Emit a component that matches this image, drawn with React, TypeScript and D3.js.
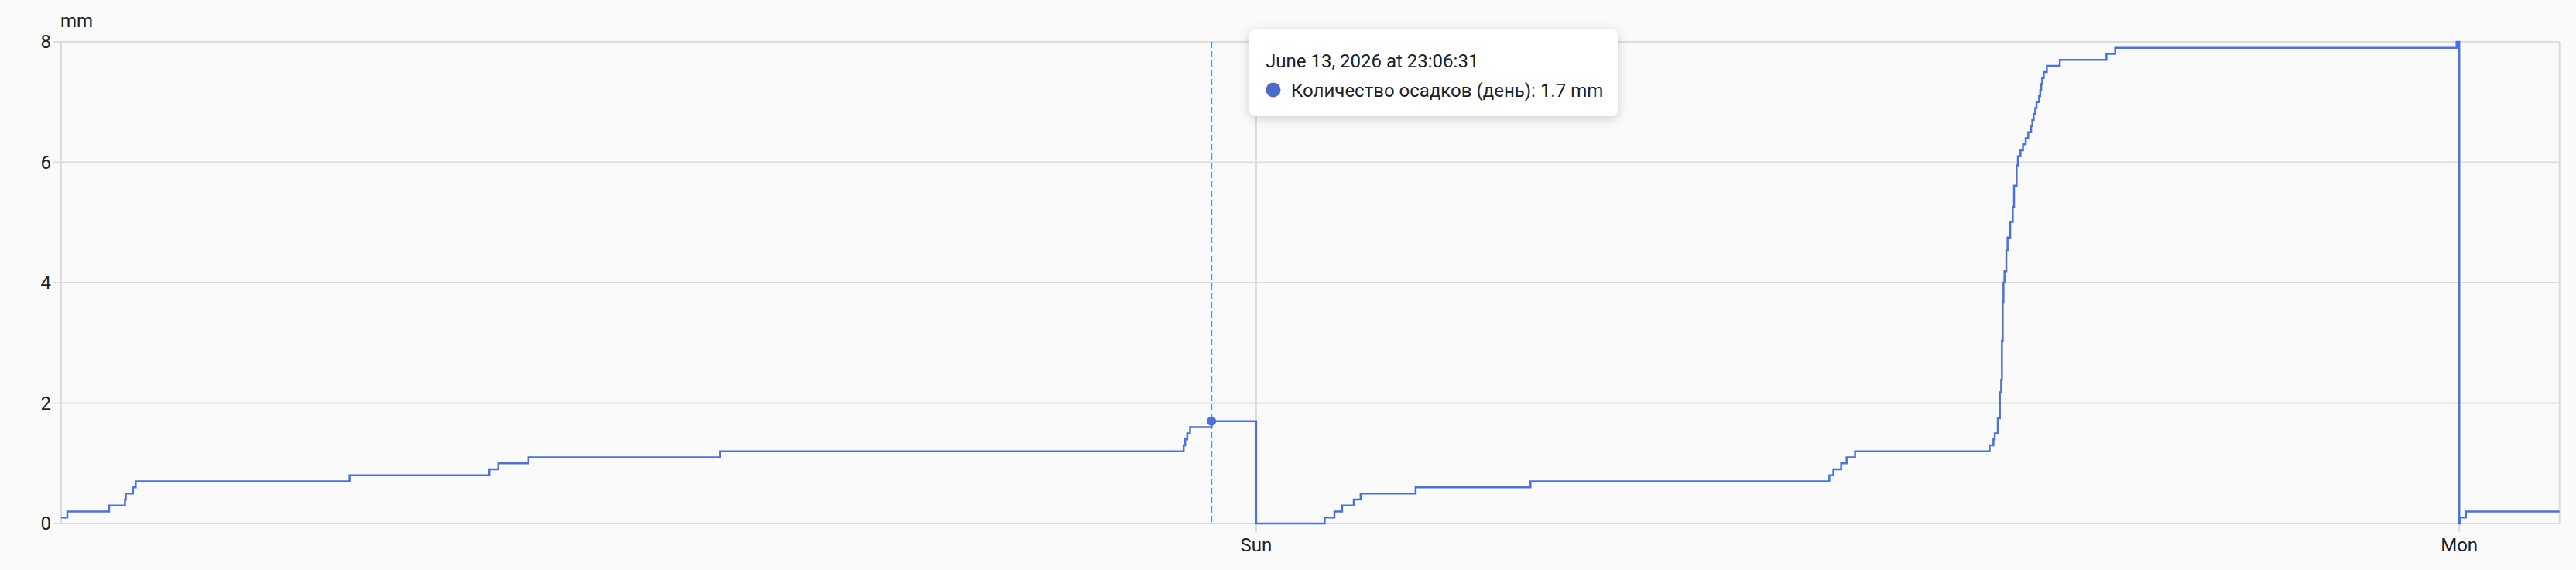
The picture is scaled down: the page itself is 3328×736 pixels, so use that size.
import React from "react";
import * as d3 from "d3";

// ---- data ----
const domainStart = "2026-06-13T00:09:36";
const domainEnd = "2026-06-15T02:00:00";

const times: string[] = [
  "2026-06-13T00:09:36", "2026-06-13T00:17:00", "2026-06-13T01:07:00", "2026-06-13T01:26:00",
  "2026-06-13T01:27:00", "2026-06-13T01:35:30", "2026-06-13T01:38:50", "2026-06-13T05:54:50",
  "2026-06-13T08:42:10", "2026-06-13T08:52:50", "2026-06-13T09:29:00", "2026-06-13T13:18:20",
  "2026-06-13T22:33:10", "2026-06-13T22:35:00", "2026-06-13T22:37:30", "2026-06-13T22:40:50",
  "2026-06-13T23:06:31",
  "2026-06-14T00:00:00", "2026-06-14T01:22:00", "2026-06-14T01:33:40", "2026-06-14T01:42:50",
  "2026-06-14T01:56:50", "2026-06-14T02:05:00", "2026-06-14T03:10:50", "2026-06-14T05:28:20",
  "2026-06-14T11:26:00", "2026-06-14T11:30:50", "2026-06-14T11:40:10", "2026-06-14T11:46:40",
  "2026-06-14T11:56:50", "2026-06-14T14:37:50", "2026-06-14T14:42:25", "2026-06-14T14:44:00",
  "2026-06-14T14:47:42", "2026-06-14T14:50:10", "2026-06-14T14:51:43", "2026-06-14T14:52:37",
  "2026-06-14T14:53:35", "2026-06-14T14:54:29", "2026-06-14T14:55:41", "2026-06-14T14:57:54",
  "2026-06-14T14:59:24", "2026-06-14T15:02:31", "2026-06-14T15:05:35", "2026-06-14T15:07:08",
  "2026-06-14T15:10:12", "2026-06-14T15:11:46", "2026-06-14T15:14:49", "2026-06-14T15:17:53",
  "2026-06-14T15:21:04", "2026-06-14T15:24:07", "2026-06-14T15:27:32", "2026-06-14T15:29:00",
  "2026-06-14T15:30:36", "2026-06-14T15:32:30", "2026-06-14T15:34:01", "2026-06-14T15:37:05",
  "2026-06-14T15:38:30", "2026-06-14T15:39:40", "2026-06-14T15:40:48", "2026-06-14T15:42:40",
  "2026-06-14T15:46:23", "2026-06-14T16:01:52", "2026-06-14T16:57:43", "2026-06-14T17:08:13",
  "2026-06-14T23:56:49",
  "2026-06-15T00:00:00", "2026-06-15T00:00:40", "2026-06-15T00:08:00", "2026-06-15T02:00:00",
];

const values: number[] = [
  0.1, 0.2, 0.3, 0.4,
  0.5, 0.6, 0.7, 0.8,
  0.9, 1.0, 1.1, 1.2,
  1.3, 1.4, 1.5, 1.6,
  1.7,
  0.0, 0.1, 0.2, 0.3,
  0.4, 0.5, 0.6, 0.7,
  0.8, 0.9, 1.0, 1.1,
  1.2, 1.3, 1.4, 1.5,
  1.75, 2.18, 2.39, 3.04,
  3.68, 4.0, 4.19, 4.54,
  4.75, 5.01, 5.26, 5.61,
  5.95, 6.1, 6.2, 6.3,
  6.4, 6.5, 6.6, 6.7,
  6.8, 6.9, 7.0, 7.1,
  7.2, 7.3, 7.4, 7.5,
  7.6, 7.7, 7.8, 7.9,
  8.0,
  0.0, 0.1, 0.2, 0.2,
];

const yTicks: number[] = [0, 2, 4, 6, 8];
const xTickTimes: string[] = ["2026-06-14T00:00:00", "2026-06-15T00:00:00"];
const xTickLabels: string[] = ["Sun", "Mon"];
const unitLabel = "mm";

const hoverTime = "2026-06-13T23:06:31";
const hoverValue = 1.7;
const tooltipTitle = "June 13, 2026 at 23:06:31";
const seriesName = "Количество осадков (день)";

// ---- layout ----
const W = 3328;
const H = 736;
const left = 79;
const right = 3306.7;
const top = 54;
const bottom = 676;
const FONT = "Roboto, 'Noto Sans', sans-serif";
const lineColor = "#4a72dc";
const gridColor = "#dcdcdc";
const textColor = "#212121";

export default function App() {
  const x = d3
    .scaleTime()
    .domain([new Date(domainStart), new Date(domainEnd)])
    .range([left, right]);
  const y = d3.scaleLinear().domain([0, 8]).range([bottom, top]);

  const pts = times.map((t, i) => ({ t: new Date(t), v: values[i] }));
  const line = d3
    .line<{ t: Date; v: number }>()
    .x((d) => x(d.t))
    .y((d) => y(d.v))
    .curve(d3.curveStepAfter);
  const path = line(pts) || "";

  const hx = x(new Date(hoverTime));
  const hy = y(hoverValue);

  const tipX = 1614;
  const tipY = 38;
  const tipW = 476;
  const tipH = 112;

  return (
    <div style={{ position: "fixed", left: 0, top: 0, width: W, height: H, background: "#fafafa" }}>
      <svg width={W} height={H} style={{ display: "block", fontFamily: FONT }}>
        <defs>
          <filter id="shadow" x="-20%" y="-40%" width="140%" height="180%">
            <feDropShadow dx="0" dy="3" stdDeviation="7" floodColor="#000" floodOpacity="0.18" />
          </filter>
        </defs>
        <rect x={0} y={0} width={W} height={H} fill="#fafafa" />

        {/* horizontal gridlines + y ticks */}
        {yTicks.map((v) => (
          <g key={v}>
            <line x1={left - 11} x2={right} y1={y(v)} y2={y(v)} stroke={gridColor} strokeWidth={2} />
            <text
              x={left - 13}
              y={y(v)}
              dy="0.35em"
              textAnchor="end"
              fontSize={24}
              fill={textColor}
            >
              {v}
            </text>
          </g>
        ))}

        {/* left axis and right border */}
        <line x1={left} x2={left} y1={top} y2={bottom} stroke={gridColor} strokeWidth={2} />
        <line x1={right} x2={right} y1={top} y2={bottom} stroke={gridColor} strokeWidth={2} />

        {/* vertical day gridlines + labels */}
        {xTickTimes.map((t, i) => {
          const xx = x(new Date(t));
          return (
            <g key={t}>
              <line x1={xx} x2={xx} y1={top} y2={bottom + 11} stroke={gridColor} strokeWidth={2} />
              <text x={xx} y={712} textAnchor="middle" fontSize={24} fill={textColor}>
                {xTickLabels[i]}
              </text>
            </g>
          );
        })}

        {/* unit label */}
        <text x={left - 1} y={35} fontSize={24} fill={textColor}>
          {unitLabel}
        </text>

        {/* hover dashed line */}
        <line
          x1={hx}
          x2={hx}
          y1={top}
          y2={bottom}
          stroke="#3d9be9"
          strokeWidth={2}
          strokeDasharray="8,4"
        />

        {/* series */}
        <path d={path} fill="none" stroke={lineColor} strokeWidth={2.5} strokeLinejoin="miter" />

        {/* hover point */}
        <circle cx={hx} cy={hy} r={6} fill={lineColor} />

        {/* tooltip */}
        <g>
          <rect
            x={tipX}
            y={tipY}
            width={tipW}
            height={tipH}
            rx={8}
            ry={8}
            fill="#ffffff"
            filter="url(#shadow)"
          />
          <text x={tipX + 21} y={tipY + 49} fontSize={24} fill={textColor}>
            {tooltipTitle}
          </text>
          <circle cx={tipX + 31} cy={tipY + 78} r={9.5} fill="#4b6acd" />
          <text x={tipX + 54} y={tipY + 87} fontSize={24} fill={textColor}>
            {`${seriesName}: ${hoverValue} ${unitLabel}`}
          </text>
        </g>
      </svg>
    </div>
  );
}
